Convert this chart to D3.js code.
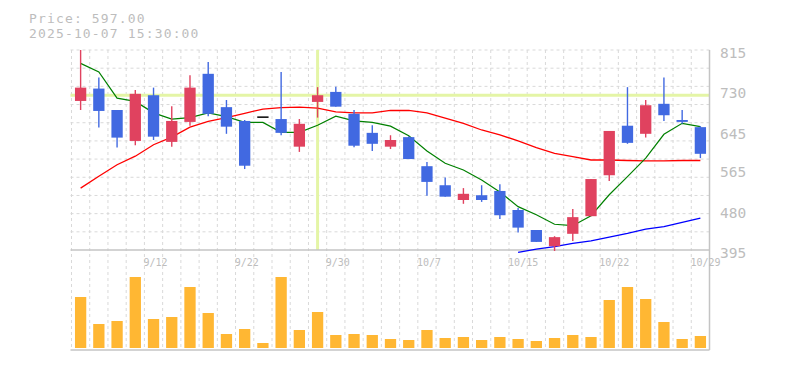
<!DOCTYPE html>
<html><head><meta charset="utf-8">
<script src="https://cdn.jsdelivr.net/npm/d3@7/dist/d3.min.js"></script>
<style>body{margin:0;background:#fff}</style>
</head><body>
<svg id="chart" width="785" height="370"></svg>
<script>
// ---- data ----
const dates = ["9/8","9/9","9/10","9/11","9/12","9/16","9/17","9/18","9/19","9/22","9/24","9/25","9/26","9/29","9/30","10/1","10/2","10/3","10/6","10/7","10/8","10/9","10/10","10/14","10/15","10/16","10/17","10/20","10/21","10/22","10/23","10/24","10/27","10/28","10/29"];
const opens  = [708,734,689,624,720,622,664,765,695,666,674,670,612,706,727,681,641,612,632,571,531,500,510,519,479,437,403,429,466,552,656,639,702,668,653];
const highs  = [815,757,689,731,736,697,762,790,710,668,674,769,670,737,738,689,657,636,634,580,547,525,531,533,483,437,424,481,544,645,737,710,757,689,655];
const lows   = [689,652,610,615,626,612,656,676,639,565,674,636,601,673,696,611,603,607,586,509,507,492,496,460,432,412,393,414,466,540,618,631,666,660,588];
const closes = [736,687,631,723,633,666,736,681,654,572,674,641,660,720,696,614,618,626,586,538,507,513,500,468,442,412,422,464,544,645,620,699,678,664,597];
const volumes = [51,24,27,71,29,31,61,35,14,19,5,71,18,36,13,14,13,9,8,18,10,11,8,11,9,7,10,13,11,48,61,49,26,9,12];
const ma5  = [787,769,714,707,683,670,673,683,675,663,663,642,642,657,676,666,663,655,635,603,577,563,542,517,486,469,449,446,467,511,549,588,638,661,654];
const ma25 = [525,550,574,592,616,632,653,665,673,682,691,694,695,693,685,683,683,688,688,683,672,661,647,637,624,610,598,591,584,584,583,582,582,583,583];
const ma75 = [null,null,null,null,null,null,null,null,null,null,null,null,null,null,null,null,null,null,null,null,null,null,null,null,390,397,402,409,414,422,430,439,444,453,462];
const labelDates = ["9/12","9/22","9/30","10/7","10/15","10/22","10/29"];
const yTicks = [395,480,565,645,730,815];
const crossIndex = 13;
const headerPrice = "Price: 597.00";
const headerTime = "2025-10-07 15:30:00";

// ---- layout ----
const svg = d3.select("#chart");
const left = 71.5, right = 709.5, pTop = 50, pBot = 250, vTop = 250, vBot = 350;
const x = d3.scaleBand().domain(d3.range(dates.length)).range([left, right]).paddingInner(0).paddingOuter(0);
const bw = x.bandwidth();
const cx = i => x(i) + bw / 2;
const y = d3.scaleLinear().domain([395, 815]).range([pBot, pTop]);
const yv = d3.scaleLinear().domain([0, 100]).range([348, 248]);
const gridColor = "#d9d9d9", axisColor = "#c4c4c4", textColor = "#bdbdbd";
const upColor = "#e0425f", downColor = "#4169e1";
const mono = "'DejaVu Sans Mono', 'Liberation Mono', monospace";

// grid: vertical
const g = svg.append("g");
d3.range(dates.length).forEach(i => {
  g.append("line").attr("x1", x(i)).attr("x2", x(i)).attr("y1", pTop).attr("y2", vBot)
    .attr("stroke", gridColor).attr("stroke-dasharray", "3,3").attr("stroke-width", 1);
});
// grid: horizontal (price panel)
const nH = 11;
for (let k = 1; k <= nH; k++) {
  const yy = pBot - k * (pBot - pTop) / nH;
  g.append("line").attr("x1", left - 1).attr("x2", right).attr("y1", yy).attr("y2", yy)
    .attr("stroke", gridColor).attr("stroke-dasharray", "3,3").attr("stroke-width", 1);
}

// crosshair
const crossColor = "#e4f5a6";
svg.append("line").attr("x1", cx(crossIndex)).attr("x2", cx(crossIndex)).attr("y1", pTop).attr("y2", pBot)
  .attr("stroke", crossColor).attr("stroke-width", 3);
svg.append("line").attr("x1", left - 1).attr("x2", right).attr("y1", y(closes[crossIndex])).attr("y2", y(closes[crossIndex]))
  .attr("stroke", crossColor).attr("stroke-width", 3);

// axes lines
svg.append("line").attr("x1", left - 1).attr("x2", right).attr("y1", pBot).attr("y2", pBot).attr("stroke", axisColor).attr("stroke-width", 1.5);
svg.append("line").attr("x1", left - 1).attr("x2", right).attr("y1", vBot).attr("y2", vBot).attr("stroke", axisColor).attr("stroke-width", 1.5);
svg.append("line").attr("x1", right).attr("x2", right).attr("y1", pTop).attr("y2", vBot).attr("stroke", axisColor).attr("stroke-width", 1.5);

// volume bars
const bodyW = 11.3;
svg.append("g").selectAll("rect").data(volumes).join("rect")
  .attr("x", (d, i) => cx(i) - bodyW / 2).attr("width", bodyW)
  .attr("y", d => yv(d)).attr("height", d => yv(0) - yv(d))
  .attr("fill", "#ffb733");

// moving averages
const lineGen = d3.line().defined(d => d != null).x((d, i) => cx(i)).y(d => y(d));
svg.append("path").datum(ma25).attr("d", lineGen).attr("fill", "none").attr("stroke", "#ff0000").attr("stroke-width", 1.3);
svg.append("path").datum(ma75).attr("d", lineGen).attr("fill", "none").attr("stroke", "#0000ff").attr("stroke-width", 1.3);
svg.append("path").datum(ma5).attr("d", lineGen).attr("fill", "none").attr("stroke", "#008000").attr("stroke-width", 1.2);

// candles
const cg = svg.append("g");
dates.forEach((d, i) => {
  const o = opens[i], c = closes[i], h = highs[i], l = lows[i];
  const col = c > o ? upColor : (c < o ? downColor : "#000");
  if (c === o && h === l) {
    cg.append("line").attr("x1", cx(i) - bodyW / 2).attr("x2", cx(i) + bodyW / 2)
      .attr("y1", y(c)).attr("y2", y(c)).attr("stroke", "#000").attr("stroke-width", 1.5);
    return;
  }
  cg.append("line").attr("x1", cx(i)).attr("x2", cx(i)).attr("y1", y(h)).attr("y2", y(l))
    .attr("stroke", col).attr("stroke-width", 1.4);
  cg.append("rect").attr("x", cx(i) - bodyW / 2).attr("width", bodyW)
    .attr("y", y(Math.max(o, c))).attr("height", Math.max(1, Math.abs(y(o) - y(c))))
    .attr("fill", col);
});

// y labels
svg.append("g").selectAll("text").data(yTicks).join("text")
  .attr("x", 720).attr("y", d => y(d) + 8).text(d => d)
  .attr("font-family", mono).attr("font-size", 14.5).attr("fill", textColor);

// x labels
svg.append("g").selectAll("text").data(labelDates).join("text")
  .attr("x", d => cx(dates.indexOf(d)) - 10).attr("y", 266).text(d => d)
  .attr("font-family", mono).attr("font-size", 10).attr("fill", textColor);

// header
svg.append("text").attr("x", 29).attr("y", 22.5).text(headerPrice)
  .attr("font-family", mono).attr("font-size", 13).attr("letter-spacing", 1.15).attr("fill", textColor);
svg.append("text").attr("x", 29).attr("y", 38).text(headerTime)
  .attr("font-family", mono).attr("font-size", 13).attr("letter-spacing", 1.15).attr("fill", textColor);
</script>
</body></html>
